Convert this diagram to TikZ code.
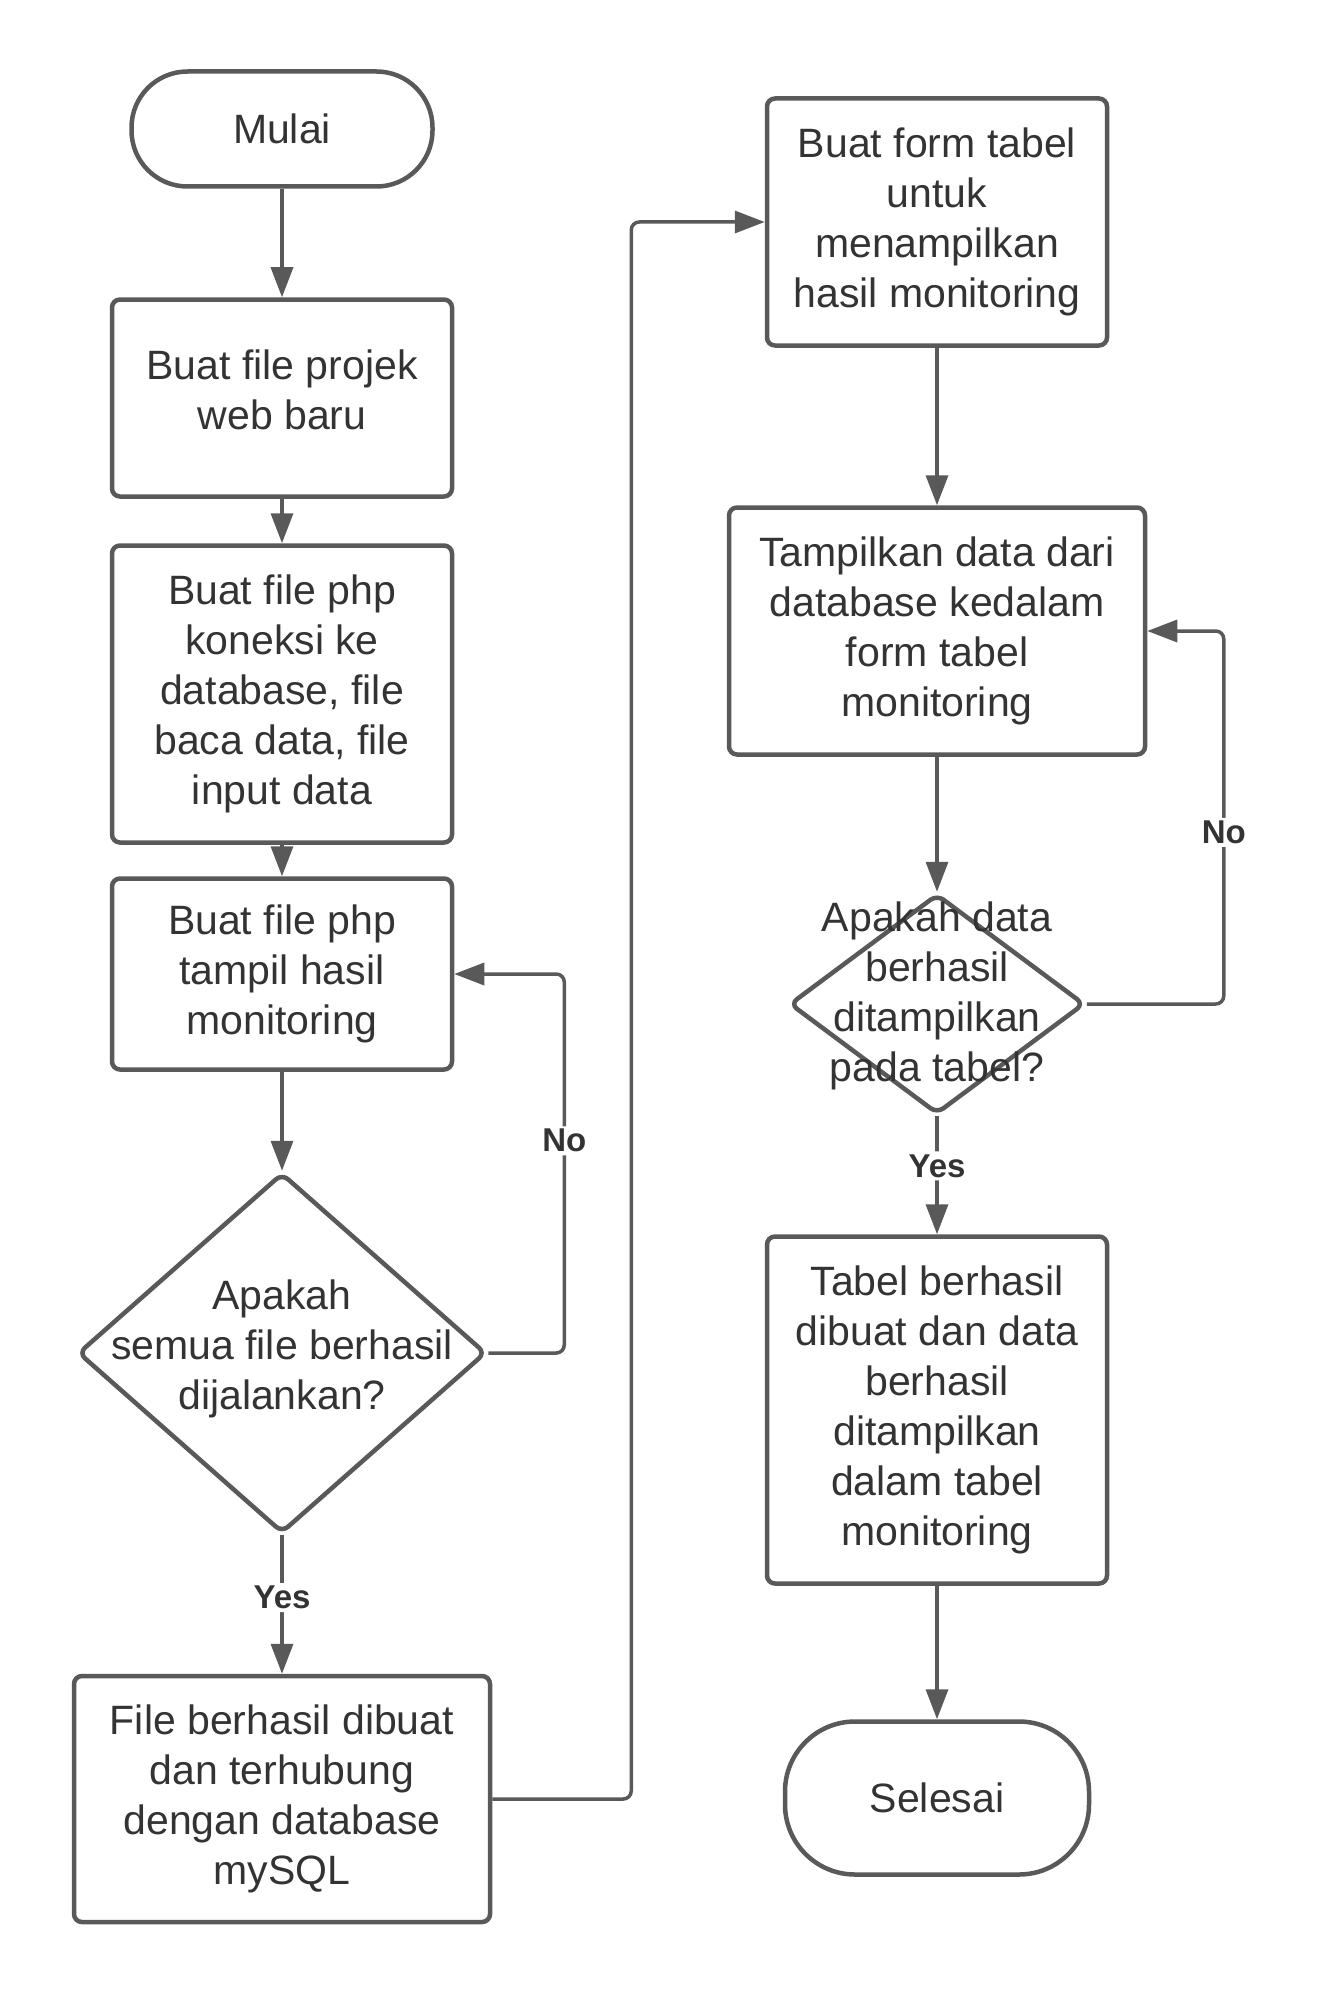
\documentclass[tikz,border=0pt]{standalone}
\usepackage{fontspec}
\setmainfont{Liberation Sans}
\usetikzlibrary{shapes.geometric,arrows.meta}
\definecolor{garis}{HTML}{595959}
\definecolor{teks}{HTML}{333333}

\begin{document}
\begin{tikzpicture}[x=1pt,y=-1pt,
  kotak/.style={draw=garis,line width=4.5pt,rounded corners=8pt,text=teks,align=center,
    font=\fontsize{41}{50}\selectfont,inner sep=0pt},
  ujung/.style={kotak,rounded corners=56pt},
  wajik/.style={draw=garis,line width=4.5pt,diamond,rounded corners=8pt,inner sep=0pt},
  isi/.style={text=teks,align=center,font=\fontsize{41}{50}\selectfont,inner sep=0pt},
  ket/.style={fill=white,text=teks,font=\bfseries\fontsize{33}{38}\selectfont,inner sep=3pt},
  panah/.style={draw=garis,line width=3.5pt,rounded corners=8pt,-{Triangle[length=30pt,width=22pt]}}]

\useasboundingbox (0,0) rectangle (1318,1993);

\node[ujung,minimum width=301,minimum height=115] (mulai) at (282,129) {Mulai};
\node[kotak,minimum width=340,minimum height=197] (b1) at (282,398) {Buat file projek\\web baru\\[-34pt]};
\node[kotak,minimum width=340,minimum height=297] (b2) at (282,694) {Buat file php\\koneksi ke\\database, file\\baca data, file\\input data};
\node[kotak,minimum width=340,minimum height=191] (b3) at (282,974) {Buat file php\\tampil hasil\\monitoring};
\node[wajik,minimum width=408,minimum height=360] (d1) at (282,1353) {};
\node[isi] (d1t) at (282,1349) {Apakah\\semua file berhasil\\dijalankan?};
\node[kotak,minimum width=416,minimum height=246] (fb) at (282,1799) {File berhasil dibuat\\dan terhubung\\dengan database\\mySQL};

\node[kotak,minimum width=340,minimum height=247] (fm) at (937,222) {Buat form tabel\\untuk\\menampilkan\\hasil monitoring};
\node[kotak,minimum width=416,minimum height=247] (tp) at (937,631) {Tampilkan data dari\\database kedalam\\form tabel\\monitoring};
\node[wajik,minimum width=295,minimum height=220] (d2) at (937,1004) {};
\node[isi] (d2t) at (937,996) {Apakah data\\berhasil\\ditampilkan\\pada tabel?};
\node[kotak,minimum width=340,minimum height=347] (tb) at (937,1410) {Tabel berhasil\\dibuat dan data\\berhasil\\ditampilkan\\dalam tabel\\monitoring};
\node[ujung,minimum width=304,minimum height=153,rounded corners=70pt] (sel) at (937,1798) {Selesai};

\draw[panah] (mulai) -- (b1);
\draw[panah] (b1) -- (b2);
\draw[panah] (b2) -- (b3);
\draw[panah] (b3) -- (d1.north);
\draw[panah] (d1.south) -- node[ket,pos=0.45] {Yes} (fb);
\draw[panah] (d1.east) -- ++(76,0) |- node[ket,pos=0.28] {No} (b3.east);
\draw[panah] (fb.east) -- ++(139,0) |- (fm.west);

\draw[panah] (fm) -- (tp);
\draw[panah] (tp) -- (d2.north);
\draw[panah] (d2.south) -- node[ket,pos=0.42] {Yes} (tb);
\draw[panah] (d2.east) -- ++(137,0) |- node[ket,pos=0.23] {No} (tp.east);
\draw[panah] (tb) -- (sel);

\end{tikzpicture}
\end{document}
